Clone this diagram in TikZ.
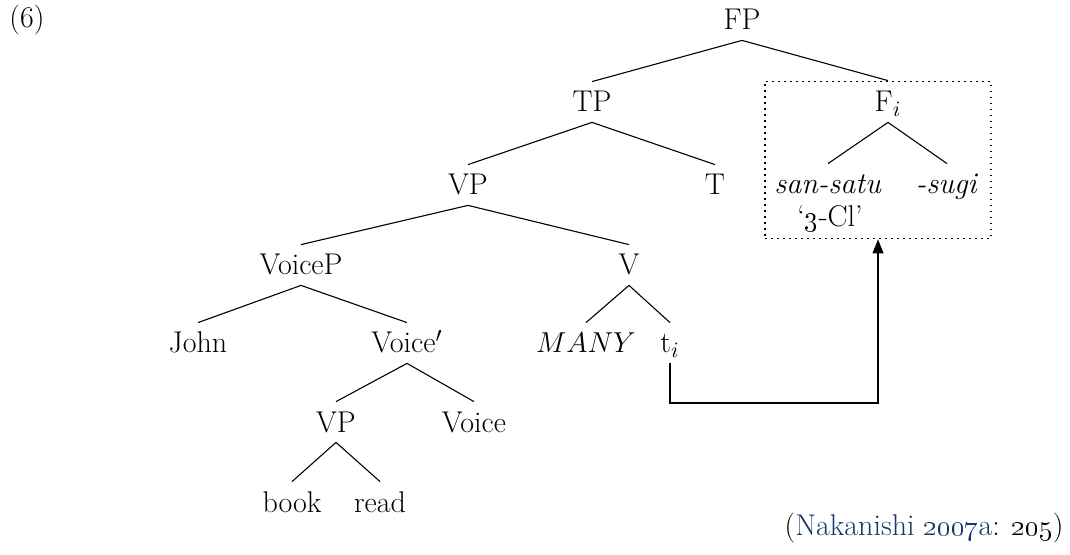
\documentclass[tikz,border=0pt]{standalone}
\usetikzlibrary{arrows.meta}
\definecolor{citeblue}{RGB}{22,56,104}
\begin{document}
\begin{tikzpicture}[x=0.5pt,y=-0.5pt,
  lbl/.style={font=\fontsize{15}{18}\selectfont, inner xsep=1pt, inner ysep=5pt,
              text height=10pt, text depth=0pt, anchor=center},
  plain/.style={font=\fontsize{15}{18}\selectfont, inner sep=0pt},
  branch/.style={line width=0.55pt},
  movebox/.style={draw, line width=0.9pt, dash pattern=on 0.9pt off 2.1pt,
                  minimum width=113pt, minimum height=78.5pt, inner sep=0pt}]
\useasboundingbox (0,0) rectangle (1070,555);

% example number
\node[plain] (ex) at (27,20) {(6)};

% tree labels
\node[lbl] (FP)     at (742,20)  {FP};
\node[lbl] (TP)     at (592,102) {TP};
\node[lbl] (Fi)     at (888,102) {F$_i$};
\node[lbl] (VP)     at (468,185) {VP};
\node[lbl] (T)      at (715,185) {T};
\node[lbl] (san)    at (828,184) {\textit{san-satu}};
\node[lbl] (sugi)   at (947,184) {\textit{-sugi}};
\node[plain] (gloss) at (830,219) {`\oldstylenums{3}-Cl'};
\node[lbl] (VoiceP) at (301,265) {VoiceP};
\node[lbl] (V)      at (629,265) {V};
\node[lbl] (John)   at (198,343) {John};
\node[lbl] (Vbar)   at (407,343) {Voice$'$};
\node[lbl] (many)   at (586,343) {$MANY$};
\node[lbl] (t)      at (670,343) {t$_i$};
\node[lbl] (lowVP)  at (336,422) {VP};
\node[lbl] (Voice)  at (474,422) {Voice};
\node[lbl] (book)   at (292,502) {book};
\node[lbl] (read)   at (380,502) {read};

% dotted box around the moved F head
\node[movebox] (box) at (878,160) {};

% branches
\draw[branch] (FP.south) -- (TP.north);
\draw[branch] (FP.south) -- (box.north -| Fi);
\draw[branch] (TP.south) -- (VP.north);
\draw[branch] (TP.south) -- (T.north);
\draw[branch] (Fi.south) -- (san.north);
\draw[branch] (Fi.south) -- (sugi.north);
\draw[branch] (VP.south) -- (VoiceP.north);
\draw[branch] (VP.south) -- (V.north);
\draw[branch] (VoiceP.south) -- (John.north);
\draw[branch] (VoiceP.south) -- (Vbar.north);
\draw[branch] (V.south) -- (many.north);
\draw[branch] (V.south) -- (t.north);
\draw[branch] (Vbar.south) -- (lowVP.north);
\draw[branch] (Vbar.south) -- (Voice.north);
\draw[branch] (lowVP.south) -- (book.north);
\draw[branch] (lowVP.south) -- (read.north);

% movement arrow from the trace to the box
\coordinate (turn) at (878,403);
\draw[branch, -{Triangle[length=7pt,width=5.5pt]}] (t.south) |- (turn) -- (box.south);

% source
\node[plain, anchor=east] (src) at (1064,528)
  {(\textcolor{citeblue}{Nakanishi \oldstylenums{2007}a}: \oldstylenums{205})};
\end{tikzpicture}
\end{document}
